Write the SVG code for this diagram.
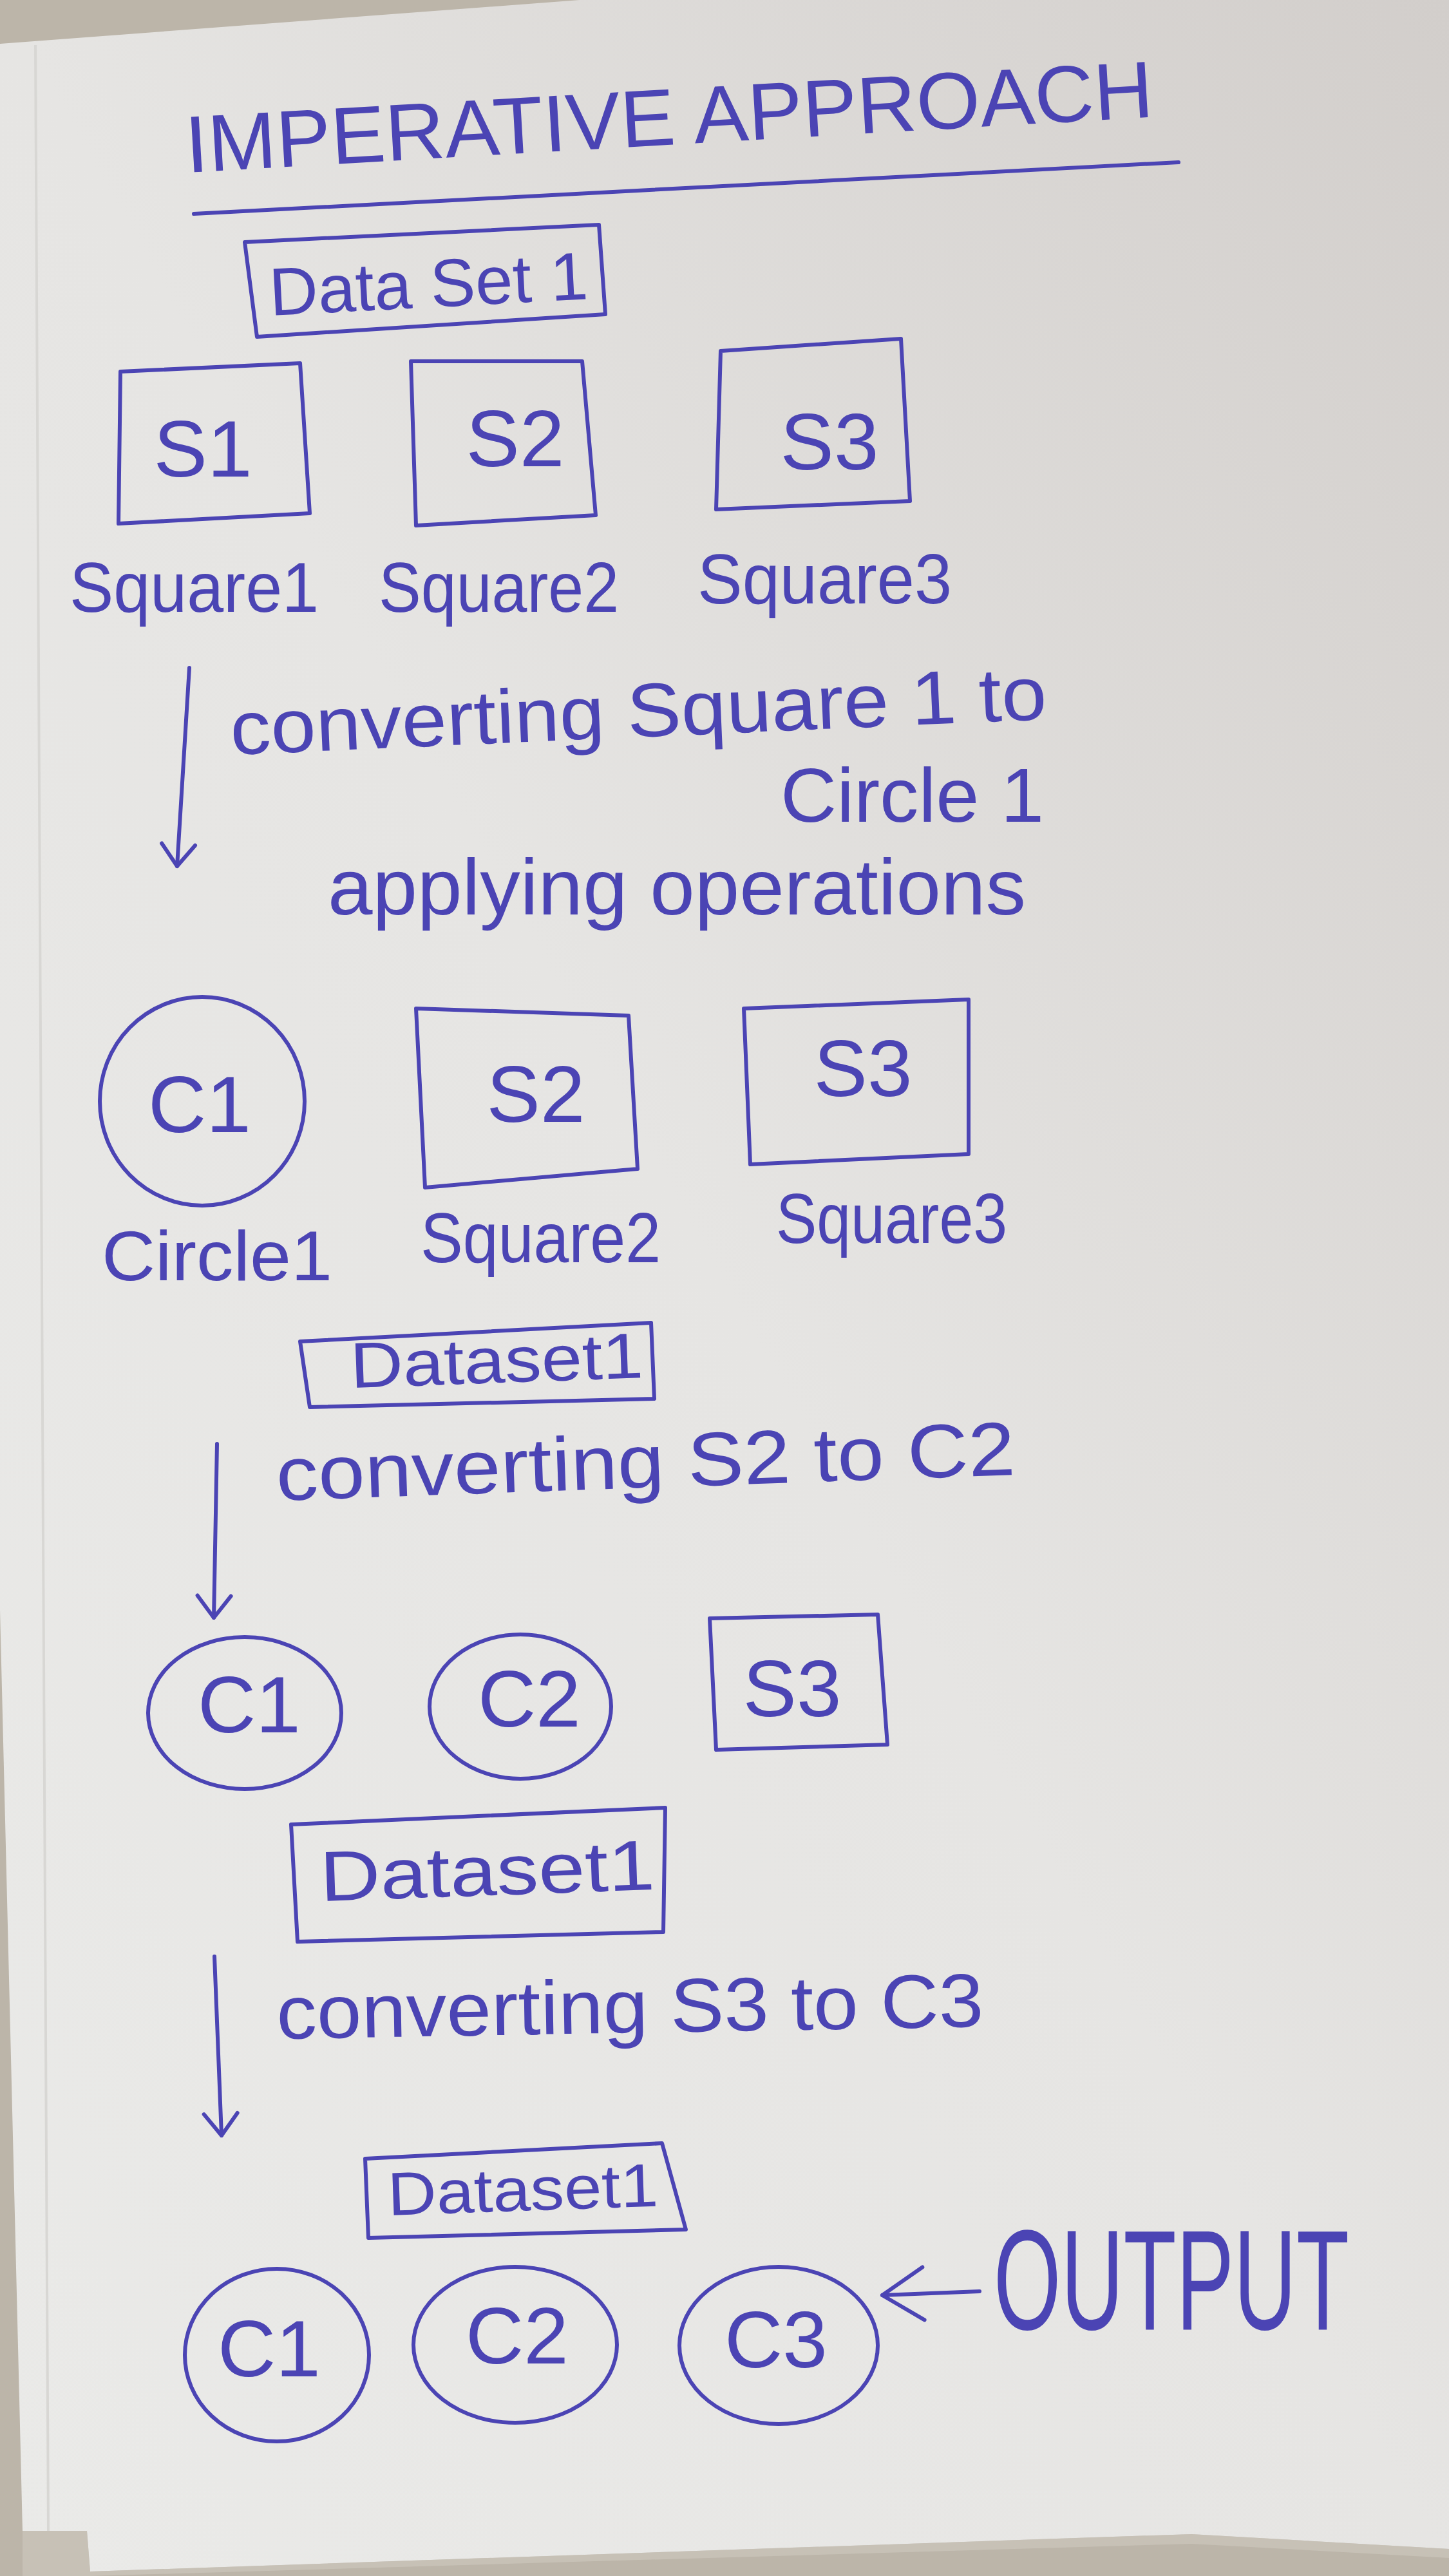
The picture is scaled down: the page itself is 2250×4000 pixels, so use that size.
<svg xmlns="http://www.w3.org/2000/svg" width="2250" height="4000" viewBox="0 0 2250 4000">
  <defs>
    <linearGradient id="paper" x1="0" y1="1" x2="1" y2="0">
      <stop offset="0" stop-color="#eaeae8"/>
      <stop offset="0.5" stop-color="#e6e5e3"/>
      <stop offset="1" stop-color="#d2cecb"/>
    </linearGradient>
    <marker id="ah" viewBox="0 0 60 60" refX="56" refY="30" markerWidth="60" markerHeight="60" markerUnits="userSpaceOnUse" orient="auto">
      <path d="M22,4 L56,30 L22,56" fill="none" stroke="#4b44b4" stroke-width="6" stroke-linecap="round" stroke-linejoin="round"/>
    </marker>
    <marker id="ahBig" viewBox="0 0 90 90" refX="84" refY="45" markerWidth="90" markerHeight="90" markerUnits="userSpaceOnUse" orient="auto">
      <path d="M20,4 L84,45 L20,86" fill="none" stroke="#4b44b4" stroke-width="6" stroke-linecap="round" stroke-linejoin="round"/>
    </marker>
  </defs>
  <style>
    .pen { fill: none; stroke: #4b44b4; stroke-width: 6; stroke-linejoin: round; stroke-linecap: round; }
    .t { font-family: "Liberation Sans", "DejaVu Sans", sans-serif; fill: #4b44b4; }
    .lbl { font-size: 110px; }
    .big { font-size: 125px; text-anchor: middle; }
    .body { font-size: 118px; }
  </style>

  <!-- background -->
  <rect x="0" y="0" width="2250" height="4000" fill="#bcb5a9"/>
  <path d="M0,68 L900,0 L2250,0 L2250,3958 L1850,3935 L140,3993 L135,3930 L35,3930 L0,2500 Z" fill="url(#paper)"/>
  <path d="M35,3930 L135,3930 L140,3993 L1850,3935 L2250,3958 L2250,3972 L1850,3950 L140,4000 L35,4000 Z" fill="#cfc9bf" opacity="0.6"/>
  <line x1="55" y1="70" x2="75" y2="3930" stroke="#d8d7d4" stroke-width="4"/>

  <!-- title -->
  <g id="title">
    <text class="t" x="290" y="268" font-size="125" textLength="1505" lengthAdjust="spacingAndGlyphs" transform="rotate(-3.3 290 268)">IMPERATIVE APPROACH</text>
    <path class="pen" d="M301,332 Q1005,292 1830,252"/>
  </g>

  <!-- stage 1 -->
  <g id="dataset1a">
    <path class="pen" d="M380,376 L930,349 L940,488 L399,523 Z"/>
    <text class="t" x="420" y="490" font-size="105" textLength="495" lengthAdjust="spacingAndGlyphs" transform="rotate(-3 420 490)">Data Set 1</text>
  </g>
  <g id="s1a">
    <path class="pen" d="M187,577 L466,564 L481,797 L184,813 Z"/>
    <text class="t big" x="315" y="740">S1</text>
    <text class="t lbl" x="108" y="950" textLength="387" lengthAdjust="spacingAndGlyphs">Square1</text>
  </g>
  <g id="s2a">
    <path class="pen" d="M638,561 L904,561 L925,800 L646,816 Z"/>
    <text class="t big" x="800" y="724">S2</text>
    <text class="t lbl" x="588" y="950" textLength="373" lengthAdjust="spacingAndGlyphs">Square2</text>
  </g>
  <g id="s3a">
    <path class="pen" d="M1119,545 L1399,526 L1413,778 L1112,791 Z"/>
    <text class="t big" x="1288" y="729">S3</text>
    <text class="t lbl" x="1083" y="937" textLength="395" lengthAdjust="spacingAndGlyphs">Square3</text>
  </g>

  <!-- stage 2 -->
  <g id="c1b">
    <ellipse class="pen" cx="314" cy="1710" rx="159" ry="162"/>
    <text class="t big" x="310" y="1758">C1</text>
    <text class="t lbl" x="158" y="1988" textLength="358" lengthAdjust="spacingAndGlyphs">Circle1</text>
  </g>
  <g id="s2b">
    <path class="pen" d="M646,1566 L976,1577 L990,1815 L660,1844 Z"/>
    <text class="t big" x="832" y="1742">S2</text>
    <text class="t lbl" x="653" y="1960" textLength="373" lengthAdjust="spacingAndGlyphs">Square2</text>
  </g>
  <g id="s3b">
    <path class="pen" d="M1155,1566 L1504,1552 L1504,1792 L1165,1808 Z"/>
    <text class="t big" x="1340" y="1702">S3</text>
    <text class="t lbl" x="1205" y="1930" textLength="359" lengthAdjust="spacingAndGlyphs">Square3</text>
  </g>
  <g id="dataset1b">
    <path class="pen" d="M466,2083 L1011,2054 L1016,2172 L481,2185 Z"/>
    <text class="t" x="545" y="2155" font-size="100" textLength="455" lengthAdjust="spacingAndGlyphs" transform="rotate(-2 545 2155)">Dataset1</text>
  </g>

  <!-- stage 3 -->
  <g id="c1c">
    <ellipse class="pen" cx="380" cy="2660" rx="150" ry="118"/>
    <text class="t big" x="387" y="2690">C1</text>
  </g>
  <g id="c2c">
    <ellipse class="pen" cx="808" cy="2650" rx="141" ry="112"/>
    <text class="t big" x="822" y="2681">C2</text>
  </g>
  <g id="s3c">
    <path class="pen" d="M1102,2513 L1363,2507 L1378,2709 L1112,2717 Z"/>
    <text class="t big" x="1230" y="2665">S3</text>
  </g>
  <g id="dataset1c">
    <path class="pen" d="M452,2833 L1033,2807 L1030,3000 L462,3015 Z"/>
    <text class="t" x="498" y="2952" font-size="110" textLength="520" lengthAdjust="spacingAndGlyphs" transform="rotate(-2 498 2952)">Dataset1</text>
  </g>

  <!-- stage 4 -->
  <g id="dataset1d">
    <path class="pen" d="M567,3352 L1028,3328 L1065,3462 L572,3475 Z"/>
    <text class="t" x="603" y="3440" font-size="95" textLength="420" lengthAdjust="spacingAndGlyphs" transform="rotate(-2 603 3440)">Dataset1</text>
  </g>
  <g id="c1d">
    <ellipse class="pen" cx="430" cy="3657" rx="143" ry="134"/>
    <text class="t big" x="418" y="3690">C1</text>
  </g>
  <g id="c2d">
    <ellipse class="pen" cx="800" cy="3641" rx="158" ry="121"/>
    <text class="t big" x="803" y="3670">C2</text>
  </g>
  <g id="c3d">
    <ellipse class="pen" cx="1209" cy="3642" rx="154" ry="122"/>
    <text class="t big" x="1205" y="3676">C3</text>
  </g>
  <g id="output">
    <text class="t" x="1543" y="3617" font-size="220" textLength="552" lengthAdjust="spacingAndGlyphs">OUTPUT</text>
  </g>

  <!-- step labels -->
  <g id="step-labels">
    <text class="t body" x="359" y="1172" textLength="1269" lengthAdjust="spacingAndGlyphs" transform="rotate(-2.5 359 1172)">converting Square 1 to</text>
    <text class="t body" x="1212" y="1276" textLength="409" lengthAdjust="spacingAndGlyphs">Circle 1</text>
    <text class="t" x="509" y="1420" font-size="122" textLength="1084" lengthAdjust="spacingAndGlyphs">applying operations</text>
    <text class="t body" x="430" y="2330" textLength="1148" lengthAdjust="spacingAndGlyphs" transform="rotate(-2 430 2330)">converting S2 to C2</text>
    <text class="t body" x="430" y="3166" textLength="1098" lengthAdjust="spacingAndGlyphs" transform="rotate(-1 430 3166)">converting S3 to C3</text>
  </g>

  <!-- connectors -->
  <g id="connectors">
    <path class="pen" d="M294,1037 L275,1345" marker-end="url(#ah)"/>
    <path class="pen" d="M337,2242 L332,2512" marker-end="url(#ah)"/>
    <path class="pen" d="M333,3038 L344,3316" marker-end="url(#ah)"/>
    <path class="pen" d="M1521,3558 L1370,3564" marker-end="url(#ahBig)"/>
  </g>
</svg>
